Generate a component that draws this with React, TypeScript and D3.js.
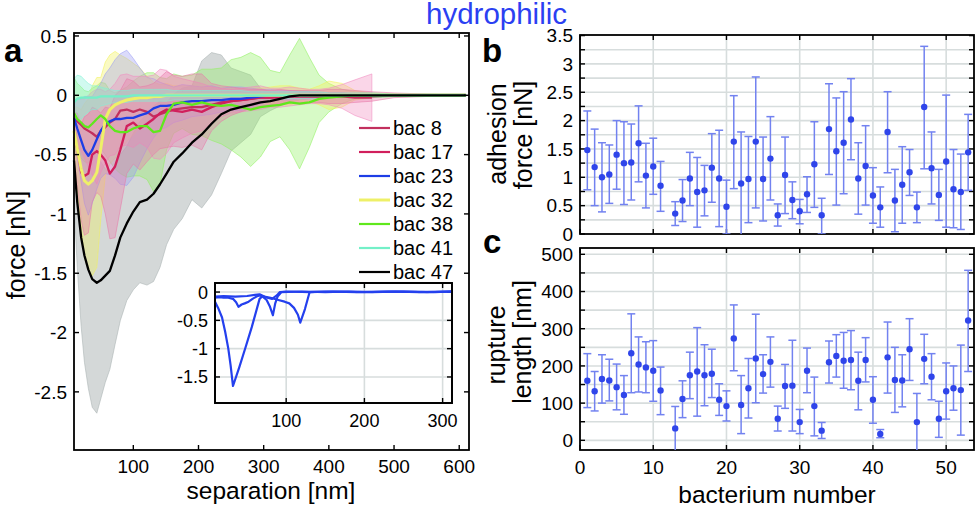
import * as d3 from "d3";
import React, { useEffect, useRef } from "react";

// ---- panel a: mean force curves (nN) with +/- sd bands ----
const separation = [9, 14, 20, 25, 31, 37, 44, 50, 57, 64, 72, 80, 90, 100, 110, 121, 131, 141, 151, 162, 175, 190, 205, 220, 235, 250, 265, 280, 295, 310, 325, 340, 355, 370, 385, 400, 420, 440, 466, 500, 550, 610];

const bac8Mean = [-0.2, -0.22, -0.25, -0.28, -0.3, -0.32, -0.35, -0.3, -0.27, -0.23, -0.2, -0.13, -0.12, -0.14, -0.12, -0.14, -0.18, -0.16, -0.14, -0.12, -0.11, -0.1, -0.1, -0.08, -0.06, -0.05, -0.04, -0.03, -0.02, -0.02, -0.02, -0.01, -0.01, -0.01, -0.01, -0.01, -0.01, -0.02, -0.02];
const bac8Sd = [0.15, 0.2, 0.22, 0.25, 0.3, 0.35, 0.4, 0.35, 0.3, 0.28, 0.3, 0.3, 0.3, 0.3, 0.28, 0.3, 0.35, 0.38, 0.35, 0.28, 0.25, 0.22, 0.2, 0.15, 0.12, 0.1, 0.1, 0.1, 0.1, 0.08, 0.08, 0.08, 0.07, 0.06, 0.06, 0.07, 0.1, 0.15, 0.2];

const bac17Mean = [-0.35, -0.45, -0.65, -0.68, -0.66, -0.5, -0.47, -0.5, -0.55, -0.66, -0.6, -0.46, -0.26, -0.23, -0.28, -0.24, -0.2, -0.15, -0.12, -0.13, -0.14, -0.12, -0.14, -0.1, -0.07, -0.05, -0.04, -0.03, -0.02, -0.02, -0.01, -0.01, -0.01, -0.01, -0.01, -0.01, -0.01, -0.01, -0.01, 0, 0, 0];
const bac17Sd = [0.2, 0.3, 0.4, 0.5, 0.5, 0.4, 0.35, 0.35, 0.45, 0.55, 0.6, 0.5, 0.4, 0.35, 0.35, 0.32, 0.3, 0.3, 0.32, 0.3, 0.3, 0.3, 0.32, 0.2, 0.15, 0.12, 0.1, 0.08, 0.07, 0.06, 0.06, 0.05, 0.05, 0.05, 0.05, 0.06, 0.06, 0.05, 0.04, 0.02, 0.01, 0.01];

const bac23Mean = [-0.19, -0.28, -0.38, -0.46, -0.51, -0.46, -0.37, -0.3, -0.24, -0.22, -0.2, -0.2, -0.19, -0.19, -0.17, -0.15, -0.11, -0.09, -0.09, -0.08, -0.06, -0.05, -0.05, -0.04, -0.04, -0.03, -0.03, -0.02, -0.01, 0, 0, 0, 0, 0, 0, 0, 0, 0, 0, 0, 0, 0];
const bac23Sd = [0.15, 0.25, 0.35, 0.45, 0.5, 0.45, 0.42, 0.4, 0.42, 0.45, 0.5, 0.55, 0.57, 0.5, 0.4, 0.3, 0.25, 0.2, 0.18, 0.15, 0.15, 0.13, 0.12, 0.12, 0.1, 0.1, 0.1, 0.08, 0.06, 0.05, 0.04, 0.04, 0.03, 0.03, 0.02, 0.02, 0.02, 0.01, 0.01, 0.01, 0.01, 0];

const bac32Mean = [-0.3, -0.45, -0.62, -0.72, -0.75, -0.72, -0.65, -0.45, -0.2, -0.12, -0.08, -0.06, -0.04, -0.03, -0.02, -0.02, -0.01, -0.01, 0, 0, 0, 0, 0, 0, 0, 0, 0, 0, 0, 0, 0, 0, 0, 0, 0, 0, 0, 0, 0, 0, 0, 0];
const bac32Sd = [0.2, 0.35, 0.5, 0.65, 0.72, 0.8, 0.8, 0.6, 0.48, 0.46, 0.45, 0.4, 0.35, 0.3, 0.25, 0.18, 0.12, 0.1, 0.1, 0.08, 0.08, 0.08, 0.07, 0.07, 0.06, 0.06, 0.06, 0.06, 0.06, 0.07, 0.08, 0.08, 0.06, 0.05, 0.08, 0.12, 0.1, 0.04, 0.02, 0.01, 0.01, 0];

const bac38Mean = [-0.15, -0.2, -0.23, -0.26, -0.27, -0.24, -0.2, -0.17, -0.2, -0.26, -0.3, -0.31, -0.31, -0.28, -0.26, -0.26, -0.31, -0.3, -0.16, -0.07, -0.06, -0.08, -0.06, -0.08, -0.09, -0.08, -0.1, -0.12, -0.1, -0.09, -0.08, -0.06, -0.07, -0.06, -0.03, -0.02, -0.01, 0, 0, 0, 0, 0];
const bac38Sd = [0.3, 0.3, 0.3, 0.3, 0.3, 0.3, 0.28, 0.28, 0.3, 0.3, 0.32, 0.35, 0.38, 0.4, 0.42, 0.45, 0.5, 0.45, 0.3, 0.25, 0.22, 0.25, 0.28, 0.3, 0.32, 0.38, 0.42, 0.48, 0.42, 0.3, 0.27, 0.4, 0.55, 0.38, 0.2, 0.12, 0.06, 0.03, 0.02, 0.01, 0.01, 0.01];

const bac41Mean = [-0.06, -0.03, -0.02, -0.02, -0.02, -0.02, -0.02, -0.01, -0.01, -0.01, -0.01, -0.01, -0.01, 0, 0, 0, 0, 0, 0, 0, 0, 0, 0, 0, 0, 0, 0, 0, 0, 0, 0, 0, 0, 0, 0, 0, 0, 0, 0, 0, 0, 0];
const bac41Sd = [0.2, 0.2, 0.18, 0.15, 0.12, 0.1, 0.1, 0.08, 0.07, 0.06, 0.05, 0.05, 0.05, 0.05, 0.05, 0.05, 0.05, 0.05, 0.05, 0.04, 0.04, 0.04, 0.04, 0.04, 0.04, 0.04, 0.04, 0.03, 0.03, 0.03, 0.03, 0.03, 0.03, 0.03, 0.03, 0.02, 0.02, 0.02, 0.02, 0.01, 0.01, 0.01];

const bac47Mean = [-0.55, -0.9, -1.2, -1.35, -1.47, -1.55, -1.58, -1.56, -1.52, -1.48, -1.35, -1.2, -1.08, -0.98, -0.9, -0.88, -0.83, -0.75, -0.66, -0.56, -0.49, -0.4, -0.33, -0.24, -0.16, -0.12, -0.1, -0.08, -0.06, -0.05, -0.03, -0.01, 0, 0, 0, 0, 0, 0, 0, 0, 0, 0];
const bac47Sd = [0.35, 0.55, 0.75, 0.9, 1.0, 1.08, 1.1, 1.0, 0.9, 0.83, 0.75, 0.7, 0.65, 0.66, 0.68, 0.72, 0.74, 0.7, 0.6, 0.57, 0.55, 0.48, 0.62, 0.6, 0.5, 0.35, 0.3, 0.25, 0.12, 0.08, 0.06, 0.05, 0.04, 0.03, 0.03, 0.02, 0.02, 0.01, 0.01, 0.01, 0.01, 0.01];

const seriesNames = ["bac 8", "bac 17", "bac 23", "bac 32", "bac 38", "bac 41", "bac 47"];
const seriesMeans = [bac8Mean, bac17Mean, bac23Mean, bac32Mean, bac38Mean, bac41Mean, bac47Mean];
const seriesSds = [bac8Sd, bac17Sd, bac23Sd, bac32Sd, bac38Sd, bac41Sd, bac47Sd];
const lineColors = ["#c2305e", "#d11f5c", "#1d3de6", "#eef068", "#5fe81c", "#74f0c8", "#000000"];
const bandColors = ["#f08cc0", "#e87aa8", "#9a9cf5", "#f2f25a", "#8ff060", "#7ff2d6", "#a9b1b1"];
const bandOrder = [6, 4, 3, 2, 0, 1, 5];

const forceTicks = [0.5, 0, -0.5, -1, -1.5, -2, -2.5];
const separationTicks = [100, 200, 300, 400, 500, 600];

// ---- inset: three single force curves ----
const insetSepA = [9, 13, 18, 22, 26, 29, 32, 40, 48, 56, 66, 70, 76, 82, 88, 92, 100, 130, 160, 200, 240, 280, 312];
const insetForceA = [-0.17, -0.28, -0.45, -0.7, -1.0, -1.3, -1.66, -1.33, -0.98, -0.62, -0.12, -0.07, -0.1, -0.12, -0.06, 0, 0.01, 0, 0.01, 0, 0.01, 0, 0.01];
const insetSepB = [9, 15, 20, 26, 32, 36, 39, 43, 47, 52, 57, 62, 66, 70, 75, 79, 83, 86, 89, 94, 120, 150, 180, 210, 250, 290, 312];
const insetForceB = [-0.1, -0.09, -0.1, -0.1, -0.12, -0.18, -0.26, -0.22, -0.2, -0.17, -0.12, -0.08, -0.06, -0.08, -0.14, -0.25, -0.41, -0.2, -0.08, 0, 0.01, 0, 0.01, 0, 0.01, 0, 0.01];
const insetSepC = [9, 20, 35, 50, 60, 66, 72, 80, 90, 98, 104, 110, 115, 118, 124, 130, 150, 190, 230, 270, 312];
const insetForceC = [-0.08, -0.07, -0.08, -0.07, -0.05, -0.04, -0.08, -0.1, -0.14, -0.17, -0.2, -0.28, -0.4, -0.54, -0.3, 0, 0.01, 0, 0.01, 0, 0.01];
const insetForceTicks = [0, -0.5, -1, -1.5];
const insetSepTicks = [100, 200, 300];

// ---- panels b, c: per bacterium (1..53), bacterium 12 missing ----
const adhesionMean = [1.48, 1.18, 1.0, 1.05, 1.4, 1.25, 1.26, 1.6, 1.03, 1.19, 0.85, null, 0.36, 0.59, 0.98, 0.74, 0.77, 1.17, 0.98, 0.48, 1.63, 0.89, 0.97, 1.63, 0.97, 1.33, 0.33, 1.04, 0.6, 0.4, 0.7, 1.23, 0.33, 1.85, 1.46, 1.61, 2.02, 0.98, 1.2, 0.68, 0.47, 1.8, 0.59, 0.87, 1.09, 0.47, 2.24, 1.16, 0.69, 1.28, 0.79, 0.74, 1.44];
const adhesionHigh = [2.17, 1.85, 1.61, 1.57, 2.0, 1.98, 1.94, 2.26, 1.6, 1.69, 1.28, null, 0.57, 0.96, 1.44, 1.35, 1.21, 1.77, 1.83, 0.95, 2.44, 1.8, 1.72, 2.77, 1.71, 2.07, 0.53, 1.71, 0.92, 0.61, 1.01, 1.98, 0.63, 2.65, 2.4, 2.51, 2.74, 1.61, 1.91, 1.17, 0.83, 2.51, 1.14, 1.54, 1.49, 0.74, 3.31, 1.8, 1.14, 2.45, 1.49, 1.41, 2.11];
const adhesionLow = [0.78, 0.5, 0.39, 0.54, 0.79, 0.52, 0.6, 0.92, 0.46, 0.7, 0.4, null, 0.15, 0.22, 0.5, 0.12, 0.32, 0.56, 0.13, 0, 0.8, -0.1, 0.2, 0.46, 0.23, 0.6, 0.14, 0.36, 0.27, 0.18, 0.38, 0.47, 0, 1.05, 0.51, 0.71, 1.31, 0.35, 0.51, 0.19, 0.12, 1.08, 0.04, 0.19, 0.68, 0.2, 1.15, 0.53, 0.24, 0.12, 0.11, 0.08, 0.77];

const ruptureMean = [160, 132, 165, 161, 143, 122, 234, 204, 196, 187, 134, null, 32, 111, 175, 185, 175, 179, 109, 92, 274, 95, 140, 220, 178, 211, 58, 146, 147, 49, 187, 92, 26, 210, 227, 214, 216, 160, 216, 109, 17, 223, 162, 161, 245, 49, 219, 171, 58, 132, 140, 135, 322];
const ruptureHigh = [233, 185, 230, 218, 205, 174, 340, 278, 265, 268, 197, null, 91, 160, 237, 303, 257, 245, 152, 133, 364, 174, 220, 339, 230, 278, 92, 204, 269, 83, 248, 170, 48, 267, 284, 290, 295, 237, 276, 171, 29, 318, 250, 230, 327, 126, 285, 233, 105, 208, 200, 256, 457];
const ruptureLow = [88, 79, 100, 106, 82, 70, 128, 130, 128, 105, 69, null, -40, 61, 112, 65, 93, 115, 67, 52, 187, 18, 60, 101, 127, 143, 25, 86, 25, 18, 128, 12, 5, 154, 170, 140, 136, 82, 157, 46, 7, 127, 75, 90, 161, -40, 152, 109, 8, 57, 81, 14, 185];

const bacteriumTicks = [0, 10, 20, 30, 40, 50];
const adhesionTicks = [0, 0.25, 0.5, 0.75, 1, 1.25, 1.5, 1.75, 2, 2.25, 2.5, 2.75, 3, 3.25, 3.5];
const adhesionLabels = [0, 0.5, 1, 1.5, 2, 2.5, 3, 3.5];
const ruptureTicks = [0, 50, 100, 150, 200, 250, 300, 350, 400, 450, 500];
const ruptureLabels = [0, 100, 200, 300, 400, 500];

const FONT = "'Liberation Sans', Arial, Helvetica, sans-serif";
const GRID = "#d7dddd";
const BAR = "#7282f0";
const DOT = "#2f45ea";

type Sel = d3.Selection<SVGGElement, unknown, null, undefined>;

function axesBox(
  g: Sel,
  x: d3.ScaleLinear<number, number>,
  y: d3.ScaleLinear<number, number>,
  cfg: {
    xTicks: number[];
    yTicks: number[];
    xLabels: number[];
    yLabels: number[];
    grid?: boolean;
    fontSize: number;
    xLabelY: number;
  }
) {
  const [x0, x1] = x.range();
  const [y0, y1] = y.range();
  const t = 5;
  if (cfg.grid) {
    g.append("g")
      .selectAll("line")
      .data(cfg.xTicks.filter((d) => x(d) > x0 + 1 && x(d) < x1 - 1))
      .join("line")
      .attr("x1", (d) => x(d))
      .attr("x2", (d) => x(d))
      .attr("y1", y0)
      .attr("y2", y1)
      .attr("stroke", GRID)
      .attr("stroke-width", 1.6);
    g.append("g")
      .selectAll("line")
      .data(cfg.yTicks.filter((d) => y(d) < y0 - 1 && y(d) > y1 + 1))
      .join("line")
      .attr("x1", x0)
      .attr("x2", x1)
      .attr("y1", (d) => y(d))
      .attr("y2", (d) => y(d))
      .attr("stroke", GRID)
      .attr("stroke-width", 1.6);
  }
  const ticks = g.append("g").attr("stroke", "#000").attr("stroke-width", 1.4);
  cfg.xTicks.forEach((d) => {
    ticks.append("line").attr("x1", x(d)).attr("x2", x(d)).attr("y1", y0).attr("y2", y0 - t);
    ticks.append("line").attr("x1", x(d)).attr("x2", x(d)).attr("y1", y1).attr("y2", y1 + t);
  });
  cfg.yTicks.forEach((d) => {
    ticks.append("line").attr("x1", x0).attr("x2", x0 + t).attr("y1", y(d)).attr("y2", y(d));
    ticks.append("line").attr("x1", x1).attr("x2", x1 - t).attr("y1", y(d)).attr("y2", y(d));
  });
  g.append("rect")
    .attr("x", x0)
    .attr("y", y1)
    .attr("width", x1 - x0)
    .attr("height", y0 - y1)
    .attr("fill", "none")
    .attr("stroke", "#000")
    .attr("stroke-width", 1.8);
  g.append("g")
    .attr("font-family", FONT)
    .attr("font-size", cfg.fontSize)
    .attr("text-anchor", "end")
    .selectAll("text")
    .data(cfg.yLabels)
    .join("text")
    .attr("x", x0 - 7)
    .attr("y", (d) => y(d))
    .attr("dy", "0.36em")
    .text((d) => String(d));
  g.append("g")
    .attr("font-family", FONT)
    .attr("font-size", cfg.fontSize)
    .attr("text-anchor", "middle")
    .selectAll("text")
    .data(cfg.xLabels)
    .join("text")
    .attr("x", (d) => x(d))
    .attr("y", cfg.xLabelY)
    .text((d) => String(d));
}

function errorPanel(
  g: Sel,
  x: d3.ScaleLinear<number, number>,
  y: d3.ScaleLinear<number, number>,
  mean: (number | null)[],
  low: (number | null)[],
  high: (number | null)[],
  clipId: string
) {
  const [x0, x1] = x.range();
  const [y0, y1] = y.range();
  g.append("clipPath")
    .attr("id", clipId)
    .append("rect")
    .attr("x", x0)
    .attr("y", y1)
    .attr("width", x1 - x0)
    .attr("height", y0 - y1);
  const rows = mean
    .map((m, i) => ({ n: i + 1, m, lo: low[i], hi: high[i] }))
    .filter((d) => d.m !== null) as { n: number; m: number; lo: number; hi: number }[];
  const bars = g.append("g").attr("clip-path", `url(#${clipId})`).attr("stroke", BAR).attr("stroke-width", 1.5);
  bars.selectAll("line.v")
    .data(rows)
    .join("line")
    .attr("class", "v")
    .attr("x1", (d) => x(d.n))
    .attr("x2", (d) => x(d.n))
    .attr("y1", (d) => y(d.lo))
    .attr("y2", (d) => y(d.hi));
  bars.selectAll("line.hi")
    .data(rows)
    .join("line")
    .attr("class", "hi")
    .attr("x1", (d) => x(d.n) - 4)
    .attr("x2", (d) => x(d.n) + 4)
    .attr("y1", (d) => y(d.hi))
    .attr("y2", (d) => y(d.hi));
  bars.selectAll("line.lo")
    .data(rows)
    .join("line")
    .attr("class", "lo")
    .attr("x1", (d) => x(d.n) - 4)
    .attr("x2", (d) => x(d.n) + 4)
    .attr("y1", (d) => y(d.lo))
    .attr("y2", (d) => y(d.lo));
  g.append("g")
    .attr("fill", DOT)
    .selectAll("circle")
    .data(rows)
    .join("circle")
    .attr("cx", (d) => x(d.n))
    .attr("cy", (d) => y(d.m))
    .attr("r", 3.2);
}

export default function App() {
  const svgRef = useRef<SVGSVGElement>(null);

  useEffect(() => {
    if (!svgRef.current) return;
    const svg = d3.select(svgRef.current);
    svg.selectAll("*").remove();
    const root = svg.append("g") as unknown as Sel;

    // ---------- panel a ----------
    const xA = d3.scaleLinear([9, 615], [74, 469]);
    const yA = d3.scaleLinear([-2.99, 0.525], [450, 33]);
    const pa = root.append("g") as Sel;

    const area = d3
      .area<[number, number, number]>()
      .x((d) => xA(d[0]))
      .y0((d) => yA(d[1] - d[2]))
      .y1((d) => yA(d[1] + d[2]));
    const line = d3
      .line<[number, number, number]>()
      .x((d) => xA(d[0]))
      .y((d) => yA(d[1]));
    const pts = (k: number) =>
      seriesMeans[k].map((m, i) => [separation[i], m, seriesSds[k][i]] as [number, number, number]);

    bandOrder.forEach((k) => {
      pa.append("path")
        .attr("d", area(pts(k)))
        .attr("fill", bandColors[k])
        .attr("fill-opacity", k === 6 ? 0.5 : 0.36)
        .attr("stroke", bandColors[k])
        .attr("stroke-opacity", 0.7)
        .attr("stroke-width", 0.8);
    });
    [0, 1, 2, 3, 4, 5, 6].forEach((k) => {
      pa.append("path")
        .attr("d", line(pts(k)))
        .attr("fill", "none")
        .attr("stroke", lineColors[k])
        .attr("stroke-width", k === 3 ? 3 : 2.3)
        .attr("stroke-linejoin", "round");
    });

    axesBox(pa, xA, yA, {
      xTicks: separationTicks,
      yTicks: forceTicks,
      xLabels: separationTicks,
      yLabels: forceTicks,
      fontSize: 19,
      xLabelY: 473,
    });

    // legend
    const lg = pa.append("g").attr("font-family", FONT).attr("font-size", 20);
    seriesNames.forEach((name, k) => {
      const cy = 128 + k * 24;
      lg.append("line")
        .attr("x1", 359)
        .attr("x2", 390)
        .attr("y1", cy)
        .attr("y2", cy)
        .attr("stroke", lineColors[k])
        .attr("stroke-width", k === 3 ? 3 : 2.2);
      lg.append("text").attr("x", 393).attr("y", cy + 7).text(name);
    });

    // inset
    const xI = d3.scaleLinear([9, 312], [215, 452]);
    const yI = d3.scaleLinear([-1.96, 0.16], [403, 283]);
    const inset = pa.append("g") as Sel;
    inset.append("rect").attr("x", 215).attr("y", 283).attr("width", 237).attr("height", 120).attr("fill", "#fff");
    axesBox(inset, xI, yI, {
      xTicks: insetSepTicks,
      yTicks: insetForceTicks,
      xLabels: insetSepTicks,
      yLabels: insetForceTicks,
      grid: true,
      fontSize: 18,
      xLabelY: 427,
    });
    const iline = d3
      .line<[number, number]>()
      .x((d) => xI(d[0]))
      .y((d) => yI(d[1]));
    [
      [insetSepA, insetForceA],
      [insetSepB, insetForceB],
      [insetSepC, insetForceC],
    ].forEach(([sx, fy]) => {
      inset
        .append("path")
        .attr("d", iline(sx.map((s, i) => [s, fy[i]] as [number, number])))
        .attr("fill", "none")
        .attr("stroke", "#2440ee")
        .attr("stroke-width", 2.2)
        .attr("stroke-linejoin", "round");
    });
    inset.append("rect").attr("x", 215).attr("y", 283).attr("width", 237).attr("height", 120).attr("fill", "none").attr("stroke", "#000").attr("stroke-width", 1.8);

    // ---------- panel b ----------
    const xB = d3.scaleLinear([0, 53.8], [580, 974]);
    const yB = d3.scaleLinear([0, 3.51], [234, 35]);
    const pb = root.append("g") as Sel;
    axesBox(pb, xB, yB, {
      xTicks: bacteriumTicks,
      yTicks: adhesionTicks,
      xLabels: [],
      yLabels: adhesionLabels,
      grid: true,
      fontSize: 19,
      xLabelY: 0,
    });
    errorPanel(pb, xB, yB, adhesionMean, adhesionLow, adhesionHigh, "clipB");

    // ---------- panel c ----------
    const yC = d3.scaleLinear([-26, 517], [450, 248]);
    const pc = root.append("g") as Sel;
    axesBox(pc, xB, yC, {
      xTicks: bacteriumTicks,
      yTicks: ruptureTicks,
      xLabels: bacteriumTicks,
      yLabels: ruptureLabels,
      grid: true,
      fontSize: 19,
      xLabelY: 474,
    });
    errorPanel(pc, xB, yC, ruptureMean, ruptureLow, ruptureHigh, "clipC");

    // ---------- texts ----------
    const txt = root.append("g").attr("font-family", FONT);
    txt.append("text").attr("x", 426).attr("y", 24).attr("font-size", 29.5).attr("fill", "#2b3ff2").text("hydrophilic");
    [
      ["a", 4, 62],
      ["b", 482, 62],
      ["c", 483, 253],
    ].forEach(([s, x, y]) => {
      txt.append("text").attr("x", x).attr("y", y).attr("font-size", 33).attr("font-weight", "bold").text(s as string);
    });
    txt.append("text").attr("x", 271).attr("y", 499).attr("font-size", 24.5).attr("text-anchor", "middle").text("separation [nm]");
    txt.append("text").attr("x", 777).attr("y", 503).attr("font-size", 24.5).attr("text-anchor", "middle").text("bacterium number");
    const rot = (x: number, y: number, s: string) =>
      txt
        .append("text")
        .attr("transform", `translate(${x},${y}) rotate(-90)`)
        .attr("font-size", 25)
        .attr("text-anchor", "middle")
        .text(s);
    rot(25, 245, "force [nN]");
    rot(506, 134, "adhesion");
    rot(532, 135, "force [nN]");
    rot(505, 345, "rupture");
    rot(531, 342, "length [nm]");
  }, []);

  return (
    <svg
      ref={svgRef}
      width={979}
      height={513}
      style={{ position: "absolute", left: 0, top: 0, background: "#fff" }}
    />
  );
}
